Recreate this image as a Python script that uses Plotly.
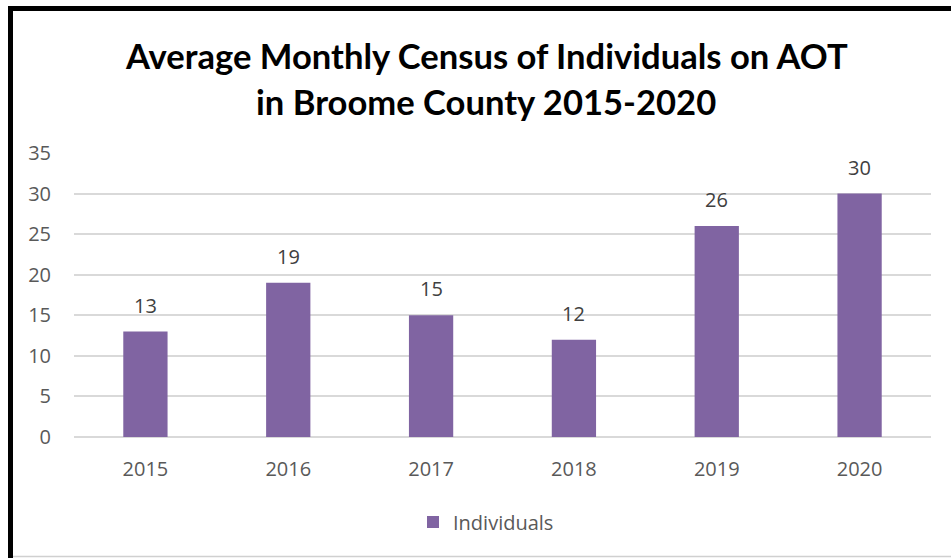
import plotly.graph_objects as go

years = ["2015", "2016", "2017", "2018", "2019", "2020"]
individuals = [13, 19, 15, 12, 26, 30]
series_name = "Individuals"
title_lines = ["Average Monthly Census of Individuals on AOT", "in Broome County 2015-2020"]

W, H = 951, 558
L, R, T, B = 74, 20, 153, 121
pw, ph = W - L - R, H - T - B

def px(x):
    return (x - L) / pw

def py(y):
    return (H - B - y) / ph

fig = go.Figure()
fig.add_trace(go.Bar(
    x=years, y=individuals, name=series_name,
    marker=dict(color="#8064A2", line=dict(width=0)),
))

label_font = dict(family="Open Sans", size=20, color="#404040")
# category axis: annotation x uses the category index
annotations = [
    dict(x=i, y=v, xref="x", yref="y", text=str(v), showarrow=False,
         yanchor="bottom", yshift=11, font=label_font)
    for i, v in enumerate(individuals)
]
title_y = [56, 102]
for line, ty in zip(title_lines, title_y):
    annotations.append(dict(
        x=px(486), y=py(ty), xref="paper", yref="paper", text=line, showarrow=False,
        xanchor="center", yanchor="middle",
        font=dict(family="Lato", size=34.6, color="black", weight="bold"),
    ))

fig.update_layout(
    width=W, height=H,
    margin=dict(l=L, r=R, t=T, b=B),
    paper_bgcolor="white", plot_bgcolor="white",
    bargap=0.69,
    annotations=annotations,
    showlegend=True,
    legend=dict(
        orientation="h", x=px(486), xanchor="center", y=py(522), yanchor="middle",
        font=dict(family="Open Sans", size=20, color="#595959"),
        itemwidth=30,
    ),
    xaxis=dict(
        type="category",
        showgrid=False, showline=False, ticks="",
        tickfont=dict(family="Open Sans", size=20, color="#595959"),
        ticklabelstandoff=18,
    ),
    yaxis=dict(
        range=[0, 35], dtick=5, showgrid=True, gridcolor="#D9D9D9", gridwidth=2,
        zeroline=True, zerolinecolor="#D9D9D9", zerolinewidth=2,
        showline=False, ticks="",
        tickfont=dict(family="Open Sans", size=20, color="#595959"),
        ticklabelstandoff=22,
    ),
    shapes=[
        dict(type="line", xref="paper", yref="paper", x0=px(8), x1=px(960), y0=py(8.5), y1=py(8.5),
             line=dict(color="black", width=5)),
        dict(type="line", xref="paper", yref="paper", x0=px(10.5), x1=px(10.5), y0=py(6), y1=py(570),
             line=dict(color="black", width=5)),
        dict(type="line", xref="paper", yref="paper", x0=px(13), x1=px(960), y0=py(556.5), y1=py(556.5),
             line=dict(color="#D0D0D0", width=1.5)),
    ],
)

fig.write_html("out.html")
